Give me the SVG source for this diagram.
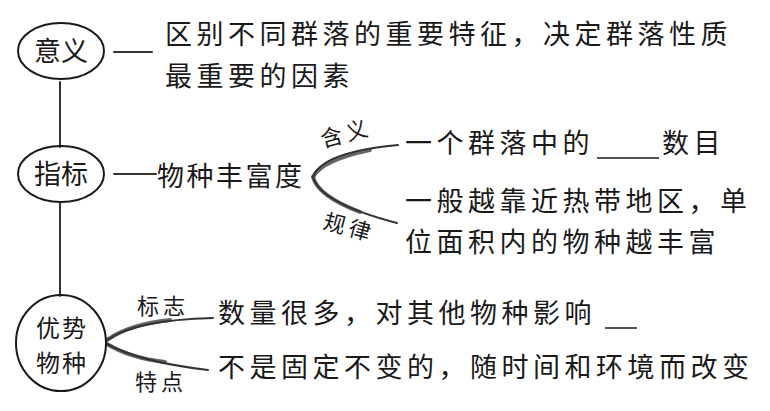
<svg xmlns="http://www.w3.org/2000/svg" width="770" height="411" viewBox="0 0 770 411">
<style>
.t{font-family:"Noto Sans CJK SC","Noto Sans",sans-serif;font-size:27px;fill:#1a1a1a;letter-spacing:4.5px}
.n{font-family:"Noto Sans CJK SC","Noto Sans",sans-serif;font-size:27px;fill:#1a1a1a;text-anchor:middle}
.n2{font-family:"Noto Sans CJK SC","Noto Sans",sans-serif;font-size:24px;fill:#1a1a1a;text-anchor:middle;letter-spacing:2px}
.l{font-family:"Noto Sans CJK SC","Noto Sans",sans-serif;font-size:22px;fill:#1a1a1a;text-anchor:middle;letter-spacing:4px}
.shape{fill:none;stroke:#1a1a1a;stroke-width:2}
.c{fill:none;stroke:#333;stroke-width:2;stroke-linecap:round}
.cb{fill:none;stroke:#666;stroke-width:4;stroke-linecap:round}
</style>
<rect width="770" height="411" fill="#fff"/>
<g id="connectors">
<line class="c" x1="114" y1="52" x2="152" y2="52"/>
<line class="c" x1="60" y1="82" x2="60" y2="147"/>
<line class="c" x1="114" y1="174" x2="156" y2="174"/>
<line class="c" x1="60" y1="203" x2="60" y2="296"/>
<path class="cb" d="M370,150 Q322,160 313,177 Q318,196 360,212"/>
<path class="c" d="M398,145 Q322,152 313,177 Q320,203 397,223"/>
<path class="cb" d="M107,340 Q130,324 170,320"/>
<path class="c" d="M107,340 Q135,320 213,318"/>
<path class="cb" d="M107,344 Q130,358 165,362"/>
<path class="c" d="M107,344 Q140,362 208,370"/>
</g>
<g id="node-yiyi">
<ellipse class="shape" cx="61" cy="51" rx="43" ry="28"/>
<text class="n" x="61" y="61">意义</text>
</g>
<g id="text-yiyi">
<text class="t" x="165" y="44">区别不同群落的重要特征，决定群落性质</text>
<text class="t" x="165" y="86">最重要的因素</text>
</g>
<g id="node-zhibiao">
<ellipse class="shape" cx="61" cy="174" rx="43" ry="28"/>
<text class="n" x="61" y="184">指标</text>
</g>
<g id="text-fengfudu">
<text class="t" x="157" y="186" style="letter-spacing:2.5px">物种丰富度</text>
</g>
<g id="label-hanyi"><text class="l" transform="translate(348,141) rotate(-15)">含义</text></g>
<g id="label-guilv"><text class="l" transform="translate(347,235) rotate(15)">规律</text></g>
<g id="text-hanyi">
<text class="t" x="405" y="153">一个群落中的</text>
<line x1="597" y1="158" x2="659" y2="158" stroke="#1a1a1a" stroke-width="1.5"/>
<text class="t" x="662" y="153">数目</text>
</g>
<g id="text-guilv">
<text class="t" x="405" y="211">一般越靠近热带地区，单</text>
<text class="t" x="405" y="252">位面积内的物种越丰富</text>
</g>
<g id="node-youshi">
<ellipse class="shape" cx="61" cy="343" rx="45" ry="48"/>
<text class="n2" x="62" y="337">优势</text>
<text class="n2" x="62" y="372">物种</text>
</g>
<g id="label-biaozhi"><text class="l" x="163" y="314">标志</text></g>
<g id="label-tedian"><text class="l" x="161" y="390">特点</text></g>
<g id="text-youshi">
<text class="t" x="218" y="323">数量很多，对其他物种影响</text>
<line x1="605" y1="328" x2="637" y2="328" stroke="#1a1a1a" stroke-width="1.5"/>
<text class="t" x="218" y="377">不是固定不变的，随时间和环境而改变</text>
</g>
</svg>
